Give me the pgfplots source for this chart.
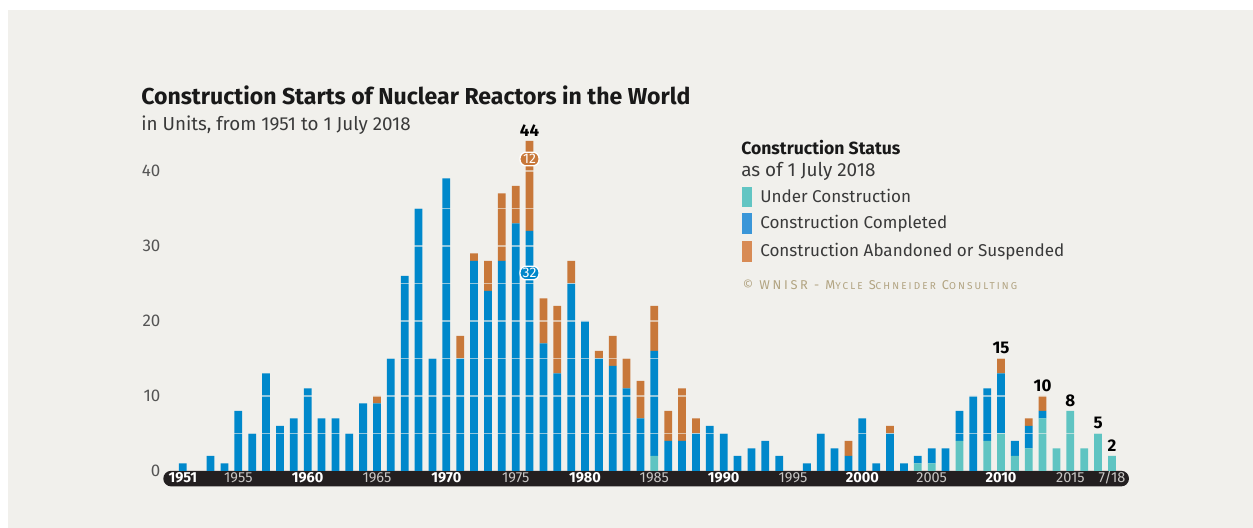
\documentclass[border=0pt]{standalone}
\usepackage{fontspec}
\setmainfont{Fira Sans}
\newfontfamily\cpfont{Fira Sans}[LetterSpace=21]
\usepackage{pgfplots}
\pgfplotsset{compat=1.18}
\usepackage{pgfplotstable}
\newlength\px \setlength\px{0.75pt}
\definecolor{bgc}{HTML}{F1F0EC}
\definecolor{cUC}{HTML}{5FC4C2}
\definecolor{cCC}{HTML}{0088CB}
\definecolor{cAB}{HTML}{C8783A}
\definecolor{lUC}{HTML}{62C5C3}
\definecolor{lCC}{HTML}{3A96D8}
\definecolor{lAB}{HTML}{D88B55}
\definecolor{darkbar}{HTML}{231F20}
\definecolor{tickgray}{HTML}{555555}
\definecolor{txtgray}{HTML}{3A3A3A}
\definecolor{yrlight}{HTML}{C8C6C4}
\definecolor{tanc}{HTML}{B2A482}
\pgfplotstableread{
year uc comp ab
1951 0 1 0
1952 0 0 0
1953 0 2 0
1954 0 1 0
1955 0 8 0
1956 0 5 0
1957 0 13 0
1958 0 6 0
1959 0 7 0
1960 0 11 0
1961 0 7 0
1962 0 7 0
1963 0 5 0
1964 0 9 0
1965 0 9 1
1966 0 15 0
1967 0 26 0
1968 0 35 0
1969 0 15 0
1970 0 39 0
1971 0 15 3
1972 0 28 1
1973 0 24 4
1974 0 28 9
1975 0 33 5
1976 0 32 12
1977 0 17 6
1978 0 13 9
1979 0 25 3
1980 0 20 0
1981 0 15 1
1982 0 14 4
1983 0 11 4
1984 0 7 5
1985 2 14 6
1986 0 4 4
1987 0 4 7
1988 0 5 2
1989 0 6 0
1990 0 5 0
1991 0 2 0
1992 0 3 0
1993 0 4 0
1994 0 2 0
1995 0 0 0
1996 0 1 0
1997 0 5 0
1998 0 3 0
1999 0 2 2
2000 0 7 0
2001 0 1 0
2002 0 5 1
2003 0 1 0
2004 1 1 0
2005 1 2 0
2006 0 3 0
2007 4 4 0
2008 0 10 0
2009 4 7 0
2010 5 8 2
2011 2 2 0
2012 3 3 1
2013 7 1 2
2014 3 0 0
2015 8 0 0
2016 3 0 0
2017 5 0 0
2018 2 0 0
}\datatable
\protected\def\yb#1{{\bfseries\color{white}#1}}
\protected\def\yl#1{{\color{yrlight}#1}}
\protected\def\fsc#1#2{#1{\fontsize{7.5}{8}\selectfont #2}}
\tikzset{vlab/.style={anchor=base, inner sep=0pt, yshift=4.5\px, font=\bfseries\fontsize{12.7}{14}\selectfont, text=black},
  gl/.style={draw=bgc, draw opacity=0.6, line width=1.2\px},
  btxt/.style={text=white, inner sep=0pt, font=\fontsize{10.5}{11}\selectfont}}
\begin{document}
\begin{tikzpicture}
\useasboundingbox (0,0) rectangle (1253\px,528\px);
\fill[white] (0,0) rectangle (1253\px,528\px);
\fill[bgc] (8\px,0) rectangle (1253\px,518\px);
\fill[darkbar, rounded corners=7.8\px] (163.3\px,41.6\px) rectangle (1129\px,57.2\px);
\begin{axis}[
  at={(163.3\px,57\px)}, anchor=south west,
  scale only axis, width=965.7\px, height=345\px,
  xmin=1949.59, xmax=2019.23, ymin=0, ymax=46,
  ybar stacked, bar width=0.56,
  axis line style={draw=none}, major tick length=0pt, tick style={draw=none},
  clip=false,
  /pgf/number format/assume math mode=true,
  ytick={0,10,20,30,40},
  yticklabel style={anchor=east, inner xsep=0pt, xshift=-2.6\px, text=tickgray,
    font=\fontsize{12.7}{14}\selectfont},
  xtick={1951,1955,1960,1965,1970,1975,1980,1985,1990,1995,2000,2005,2010,2015,2018},
  xticklabels={\yb{1951},\yl{1955},\yb{1960},\yl{1965},\yb{1970},\yl{1975},\yb{1980},\yl{1985},\yb{1990},\yl{1995},\yb{2000},\yl{2005},\yb{2010},\yl{2015},\yl{7/18}},
  xticklabel style={anchor=base, inner sep=0pt, yshift=-12\px, font=\fontsize{10.9}{12}\selectfont},
]
\addplot[fill=cUC, draw=none] table[x=year,y=uc]{\datatable};
\addplot[fill=cCC, draw=none] table[x=year,y=comp]{\datatable};
\addplot[fill=cAB, draw=none] table[x=year,y=ab]{\datatable};
\coordinate (gL) at (axis cs:1949.59,0);
\coordinate (gR) at (axis cs:2019.23,5);
\coordinate (b12) at (axis cs:1976,41.6);
\coordinate (b32) at (axis cs:1976,26.4);
\coordinate (v44) at (axis cs:1976,44);
\coordinate (v15) at (axis cs:2010,15);
\coordinate (v10) at (axis cs:2013,10);
\coordinate (v8) at (axis cs:2015,8);
\coordinate (v5) at (axis cs:2017,5);
\coordinate (v2) at (axis cs:2018,2);
\end{axis}
\foreach \k in {1,...,8} {
  \draw[gl] ([yshift=\k*37.5\px]gL) -- ([yshift=\k*37.5\px]gL -| gR);
}
\node[vlab] at (v44) {44};
\node[vlab] at (v15) {15};
\node[vlab] at (v10) {10};
\node[vlab] at (v8) {8};
\node[vlab] at (v5) {5};
\node[vlab] at (v2) {2};
\filldraw[fill=cAB, draw=white, line width=1.3\px, rounded corners=6\px]
  ([xshift=-9.5\px, yshift=-6.8\px]b12) rectangle ([xshift=9.5\px, yshift=6.8\px]b12);
\node[btxt] at (b12) {12};
\filldraw[fill=cCC, draw=white, line width=1.3\px, rounded corners=6\px]
  ([xshift=-9.5\px, yshift=-6.8\px]b32) rectangle ([xshift=9.5\px, yshift=6.8\px]b32);
\node[btxt] at (b32) {32};
\node[anchor=base west, inner sep=0pt, font=\bfseries\fontsize{17.3}{20}\selectfont, text=black!90] at (141\px,423.5\px) {Construction Starts of Nuclear Reactors in the World};
\node[anchor=base west, inner sep=0pt, font=\fontsize{14.1}{16}\selectfont, text=txtgray] at (141\px,397\px) {in Units, from 1951 to 1 July 2018};
\node[anchor=base west, inner sep=0pt, font=\bfseries\fontsize{13.2}{16}\selectfont, text=black!90] at (741\px,373\px) {Construction Status};
\node[anchor=base west, inner sep=0pt, font=\fontsize{14.2}{16}\selectfont, text=txtgray] at (741\px,351.3\px) {as of 1 July 2018};
\fill[lUC] (742.3\px,321.3\px) rectangle (752\px,341.3\px);
\fill[lCC] (742.3\px,294\px) rectangle (752\px,314.7\px);
\fill[lAB] (742.3\px,266.3\px) rectangle (752\px,287\px);
\node[anchor=base west, inner sep=0pt, font=\fontsize{12.8}{16}\selectfont, text=txtgray] at (760\px,325.7\px) {Under Construction};
\node[anchor=base west, inner sep=0pt, font=\fontsize{12.8}{16}\selectfont, text=txtgray] at (760\px,299\px) {Construction Completed};
\node[anchor=base west, inner sep=0pt, font=\fontsize{12.8}{16}\selectfont, text=txtgray] at (760\px,271.3\px) {Construction Abandoned or Suspended};
\node[anchor=base west, inner sep=0pt, font=\cpfont\fontsize{9.6}{10}\selectfont, text=tanc] at (742.7\px,238.7\px) {© WNISR - \fsc{M}{YCLE} \fsc{S}{CHNEIDER} \fsc{C}{ONSULTING}};
\end{tikzpicture}
\end{document}
